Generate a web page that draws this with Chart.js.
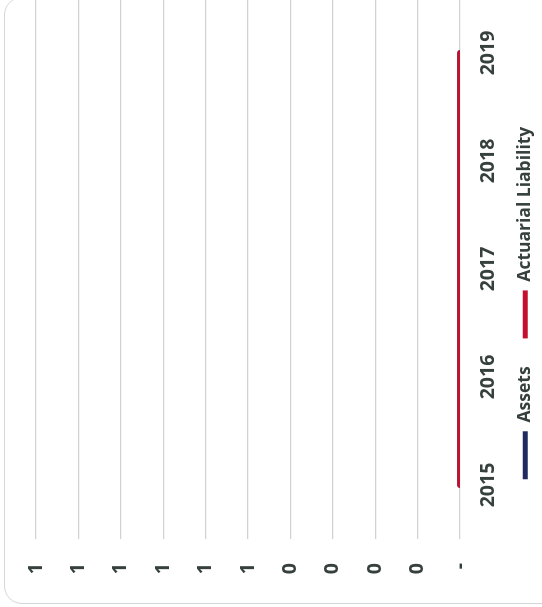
<!DOCTYPE html>
<html>
<head>
<meta charset="utf-8">
<title>Assets vs Actuarial Liability</title>
<script src="https://cdn.jsdelivr.net/npm/chart.js@4.4.1/dist/chart.umd.min.js"></script>
<style>
  html, body { margin: 0; padding: 0; background: #fff; overflow: hidden; }
  #page { position: relative; width: 542px; height: 607px; overflow: hidden; background: #fff; }
  #frame {
    position: absolute; left: 4px; top: -3px; width: 570px; height: 607px;
    border: 1.5px solid #d6d6d6; border-radius: 18px; box-sizing: border-box;
  }
  /* the scanned chart is turned a quarter turn counter-clockwise */
  #turn {
    position: absolute; left: 0; top: 0; width: 611px; height: 542px;
    transform-origin: 0 0; transform: rotate(-90deg) translate(-607px, 0);
  }
</style>
</head>
<body>
<div id="page">
  <div id="frame"></div>
  <div id="turn"><canvas id="pension-chart" width="611" height="542"></canvas></div>
</div>
<script>
// ===== DATA =====
const years = ["2015", "2016", "2017", "2018", "2019"];
const assets = [0, 0, 0, 0, 0];
const actuarialLiability = [0, 0, 0, 0, 0];
const valueTickLabels = ["-", "0", "0", "0", "0", "1", "1", "1", "1", "1", "1"];

// ===== STYLE =====
const textColor = "#36403c";
const gridColor = "#d2d2d2";
const navy = "#1f2a5e";
const crimson = "#c4102f";

Chart.defaults.font.family = "'Open Sans', 'Liberation Sans', sans-serif";
Chart.defaults.font.size = 19.5;
Chart.defaults.font.weight = "700";
Chart.defaults.color = textColor;

// ===== CHART =====
const ctx = document.getElementById("pension-chart").getContext("2d");
const pensionChart = new Chart(ctx, {
  type: "line",
  data: {
    labels: years,
    datasets: [
      {
        label: "Assets",
        data: assets,
        borderColor: navy,
        backgroundColor: navy,
        borderWidth: 5.5,
        borderCapStyle: "round",
        pointRadius: 0,
        order: 2
      },
      {
        label: "Actuarial Liability",
        data: actuarialLiability,
        borderColor: crimson,
        backgroundColor: crimson,
        borderWidth: 5.5,
        borderCapStyle: "round",
        pointRadius: 0,
        order: 1
      }
    ]
  },
  options: {
    responsive: false,
    animation: false,
    layout: { padding: { top: 36, left: 0, right: 3, bottom: -2 } },
    plugins: {
      tooltip: { enabled: false },
      legend: {
        position: "bottom",
        labels: {
          boxWidth: 48,
          boxHeight: 5,
          padding: 28,
          color: textColor,
          font: { size: 17.5, weight: "700" },
          sort: (a, b) => a.datasetIndex - b.datasetIndex,
          generateLabels: chart =>
            Chart.defaults.plugins.legend.labels.generateLabels(chart).map(l => ({ ...l, lineWidth: 0 }))
        }
      }
    },
    scales: {
      x: {
        offset: true,
        grid: { display: false, drawTicks: false },
        border: { display: false },
        // mirror keeps the year labels from being clipped to the short axis box
        ticks: { mirror: true, padding: -40, maxRotation: 0, autoSkip: false, color: textColor },
        afterFit: s => { s.height = 28.5; }
      },
      y: {
        min: 0,
        max: 1,
        grid: { color: gridColor, lineWidth: 1.2, drawTicks: false },
        border: { display: false },
        ticks: {
          stepSize: 0.1,
          padding: 24,
          color: textColor,
          callback: (value, index) => valueTickLabels[index]
        },
        afterFit: s => { s.width = 68; }
      }
    }
  }
});
</script>
</body>
</html>
